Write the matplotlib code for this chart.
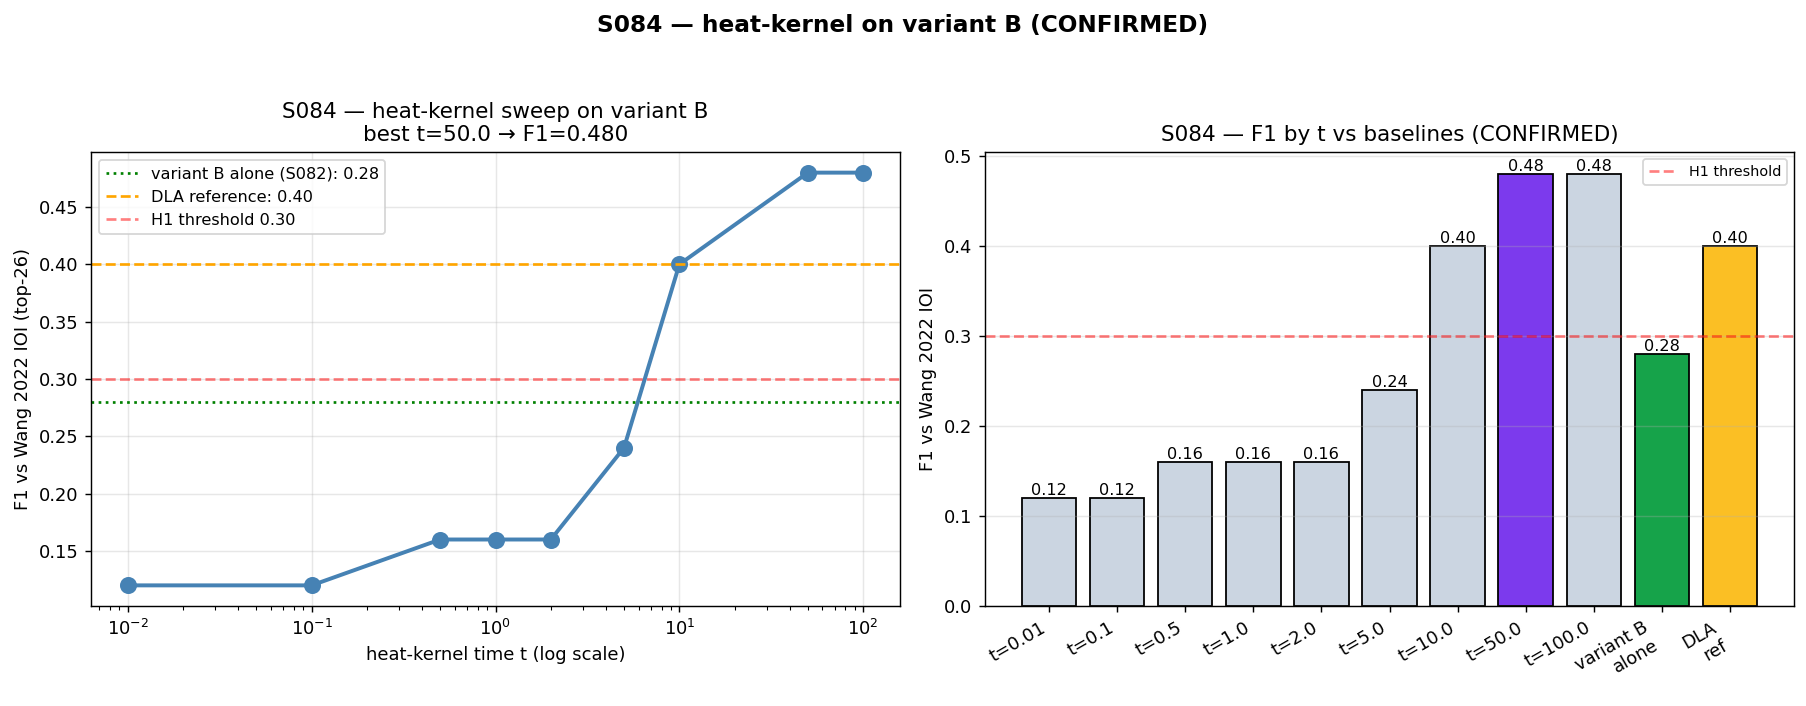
import matplotlib
matplotlib.use("Agg")
import matplotlib.pyplot as plt
import numpy as np

t_values = [0.01, 0.1, 0.5, 1.0, 2.0, 5.0, 10.0, 50.0, 100.0]
f1_values = [0.12, 0.12, 0.16, 0.16, 0.16, 0.24, 0.40, 0.48, 0.48]
variant_b_alone = 0.28
dla_reference = 0.40
h1_threshold = 0.30

bar_labels = ["t=0.01", "t=0.1", "t=0.5", "t=1.0", "t=2.0", "t=5.0", "t=10.0",
              "t=50.0", "t=100.0", "variant B\nalone", "DLA\nref"]
bar_values = f1_values + [variant_b_alone, dla_reference]
bar_colors = ["#cbd5e1"] * 7 + ["#7c3aed", "#cbd5e1", "#16a34a", "#fbbf24"]

DPI = 129
fig = plt.figure(figsize=(1806 / DPI, 706 / DPI), dpi=DPI)
ax1 = fig.add_axes([91 / 1806, 1 - 606 / 706, 809 / 1806, 454 / 706])
ax2 = fig.add_axes([985 / 1806, 1 - 606 / 706, 809 / 1806, 454 / 706])

ax1.plot(t_values, f1_values, marker="o", color="steelblue", linewidth=2.2, markersize=8.5)
ax1.set_xscale("log")
ax1.axhline(variant_b_alone, color="green", linestyle=":", linewidth=1.5,
            label=f"variant B alone (S082): {variant_b_alone:.2f}")
ax1.axhline(dla_reference, color="orange", linestyle="--", linewidth=1.5,
            label=f"DLA reference: {dla_reference:.2f}")
ax1.axhline(h1_threshold, color="red", linestyle="--", linewidth=1.5, alpha=0.5,
            label=f"H1 threshold {h1_threshold:.2f}")
ax1.set_xlabel("heat-kernel time t (log scale)")
ax1.set_ylabel("F1 vs Wang 2022 IOI (top-26)")
best_i = int(np.argmax(f1_values))
ax1.set_title(f"S084 — heat-kernel sweep on variant B\nbest t={t_values[best_i]} → F1={f1_values[best_i]:.3f}")
ax1.grid(True, alpha=0.3)
ax1.legend(loc="upper left", fontsize=9)

x = np.arange(len(bar_labels))
bars = ax2.bar(x, bar_values, color=bar_colors, edgecolor="black")
ax2.bar_label(bars, labels=[f"{v:.2f}" for v in bar_values], fontsize=9)
ax2.axhline(h1_threshold, color="red", linestyle="--", alpha=0.5, label="H1 threshold")
ax2.set_xticks(x)
ax2.set_xticklabels(bar_labels, rotation=30, ha="right")
ax2.set_ylabel("F1 vs Wang 2022 IOI")
ax2.set_title("S084 — F1 by t vs baselines (CONFIRMED)")
ax2.grid(True, axis="y", alpha=0.3)
ax2.legend(loc="upper right", fontsize=8)

fig.suptitle("S084 — heat-kernel on variant B (CONFIRMED)", fontsize=13, fontweight="bold", y=0.98)

fig.savefig("out.png", dpi=DPI)
